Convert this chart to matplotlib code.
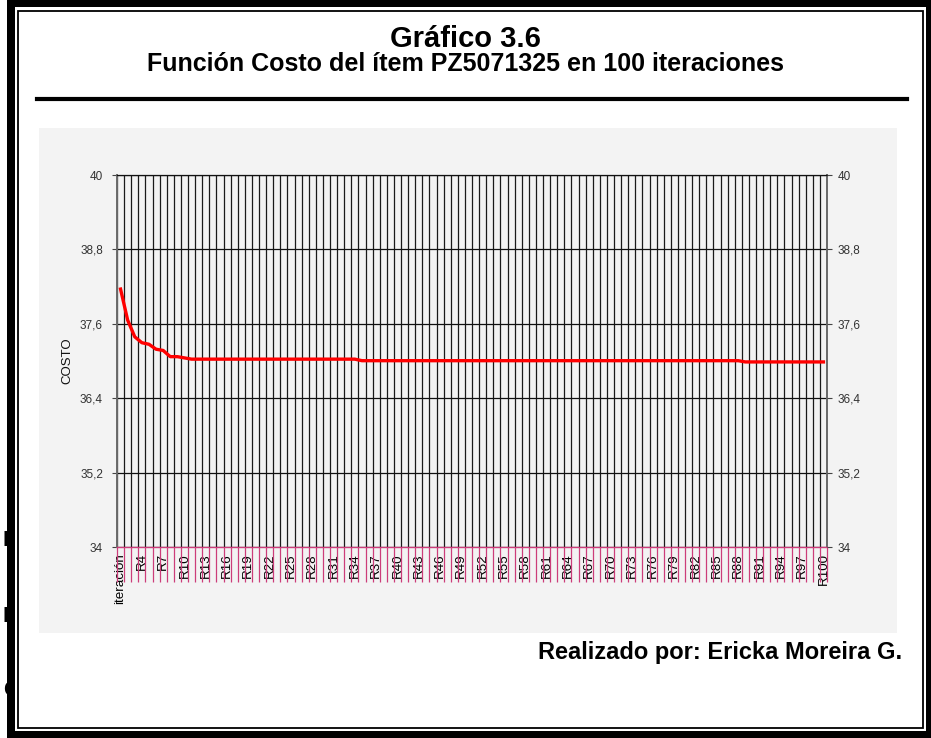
import numpy as np
import matplotlib

matplotlib.use("Agg")
import matplotlib.pyplot as plt
from matplotlib.patches import Rectangle
from matplotlib.transforms import Bbox

plt.rcParams["font.family"] = ["Liberation Sans", "DejaVu Sans"]

W, H = 931, 738

# data
categories = ["iteración"] + [f"R{i}" for i in range(2, 101)]
costo = ([38.16, 37.66, 37.39, 37.295, 37.27, 37.19, 37.17, 37.07, 37.07, 37.05]
         + [37.03] * 24 + [37.005] * 54 + [36.985] * 12)
y_ticks = [34, 35.2, 36.4, 37.6, 38.8, 40]
y_ticklabels = ["34", "35,2", "36,4", "37,6", "38,8", "40"]

PINK = "#cc3d7a"


def fx(px):
    return px / W


def fy(py):
    return 1 - py / H


def box(x0, y0, x1, y1, **kw):
    # rectangle in pixel coords (y from top)
    return Rectangle((fx(x0), fy(y1)), fx(x1) - fx(x0), (y1 - y0) / H,
                     transform=fig.transFigure, **kw)


fig = plt.figure(figsize=(W / 100, H / 100), dpi=100, facecolor="white")

# grey chart panel
fig.patches.append(box(39, 128, 897, 633, facecolor="#f3f3f3", edgecolor="none", zorder=-5))

ax = fig.add_axes([fx(117), fy(547), fx(827) - fx(117), (547 - 175) / H], zorder=1)
ax.set_facecolor("#f3f3f3")
x = np.arange(len(costo))
ax.plot(x, costo, color="#ff0000", lw=2.4, zorder=3, solid_joinstyle="round")

ax.set_xlim(-0.5, len(costo) - 0.5)
ax.set_ylim(34, 40)

# category axis: labels every 3rd, pink tick marks at every boundary
ax.set_xticks(x[::3])
ax.set_xticklabels(categories[::3], rotation=90, fontsize=9.6)
ax.set_xticks(np.arange(-0.5, len(costo), 1), minor=True)
ax.tick_params(axis="x", which="major", length=0, pad=4.5)
ax.tick_params(axis="x", which="minor", length=25, width=0.9, color=PINK)
ax.grid(axis="x", which="minor", color="#1a1a1a", lw=0.9)

ax.set_yticks(y_ticks)
ax.set_yticklabels(y_ticklabels)
ax.tick_params(axis="y", length=3.6, width=0.8, color="#444444",
               labelsize=8.5, labelcolor="#333333", pad=6.5)
ax.grid(axis="y", which="major", color="#111111", lw=0.9)

ax2 = ax.twinx()
ax2.set_ylim(34, 40)
ax2.set_yticks(y_ticks)
ax2.set_yticklabels(y_ticklabels)
ax2.tick_params(axis="y", length=3.6, width=0.8, color="#444444",
                labelsize=8.5, labelcolor="#333333", pad=4.3)
for s in ax2.spines.values():
    s.set_visible(False)

ax.spines["left"].set_color("#6a6a6a")
ax.spines["left"].set_linewidth(1.4)
ax.spines["right"].set_color("#6a6a6a")
ax.spines["right"].set_linewidth(1.4)
ax.spines["top"].set_color("#111111")
ax.spines["top"].set_linewidth(0.9)
ax.spines["bottom"].set_color(PINK)
ax.spines["bottom"].set_linewidth(1.0)

ax.set_ylabel("COSTO", fontsize=9.5, color="#111111")
ax.yaxis.set_label_coords((73 - 117) / 710, 0.5)

# titles
fig.text(0.5, fy(39), "Gráfico 3.6", ha="center", va="center",
         fontsize=21, fontweight="bold")
fig.text(0.5, fy(64), "Función Costo del ítem PZ5071325 en 100 iteraciones",
         ha="center", va="center", fontsize=18, fontweight="bold")
fig.add_artist(plt.Line2D([fx(37), fx(907)], [fy(99), fy(99)], color="black",
                          lw=3, transform=fig.transFigure))
fig.text(fx(902), fy(652), "Realizado por: Ericka Moreira G.", ha="right",
         va="center", fontsize=17, fontweight="bold")

# page border: thick outer band plus thin inner line
for x0, y0, x1, y1 in [(7, 0, 931, 7), (7, 731, 931, 738), (7, 0, 15, 738), (926, 0, 931, 738)]:
    fig.patches.append(box(x0, y0, x1, y1, facecolor="black", edgecolor="none", zorder=5))
fig.patches.append(box(18, 11, 923, 728, facecolor="none", edgecolor="black", lw=1.3, zorder=5))

# fragments of page text peeking out at the left edge
for letter, py in [("E", 541), ("P", 616), ("C", 690)]:
    t = fig.text(fx(3), fy(py), letter, ha="left", va="center", fontsize=16, fontweight="bold")
    t.set_clip_box(Bbox.from_extents(0, 0, 7, H))
    t.set_clip_on(True)

fig.savefig("out.png", dpi=100, facecolor="white")
